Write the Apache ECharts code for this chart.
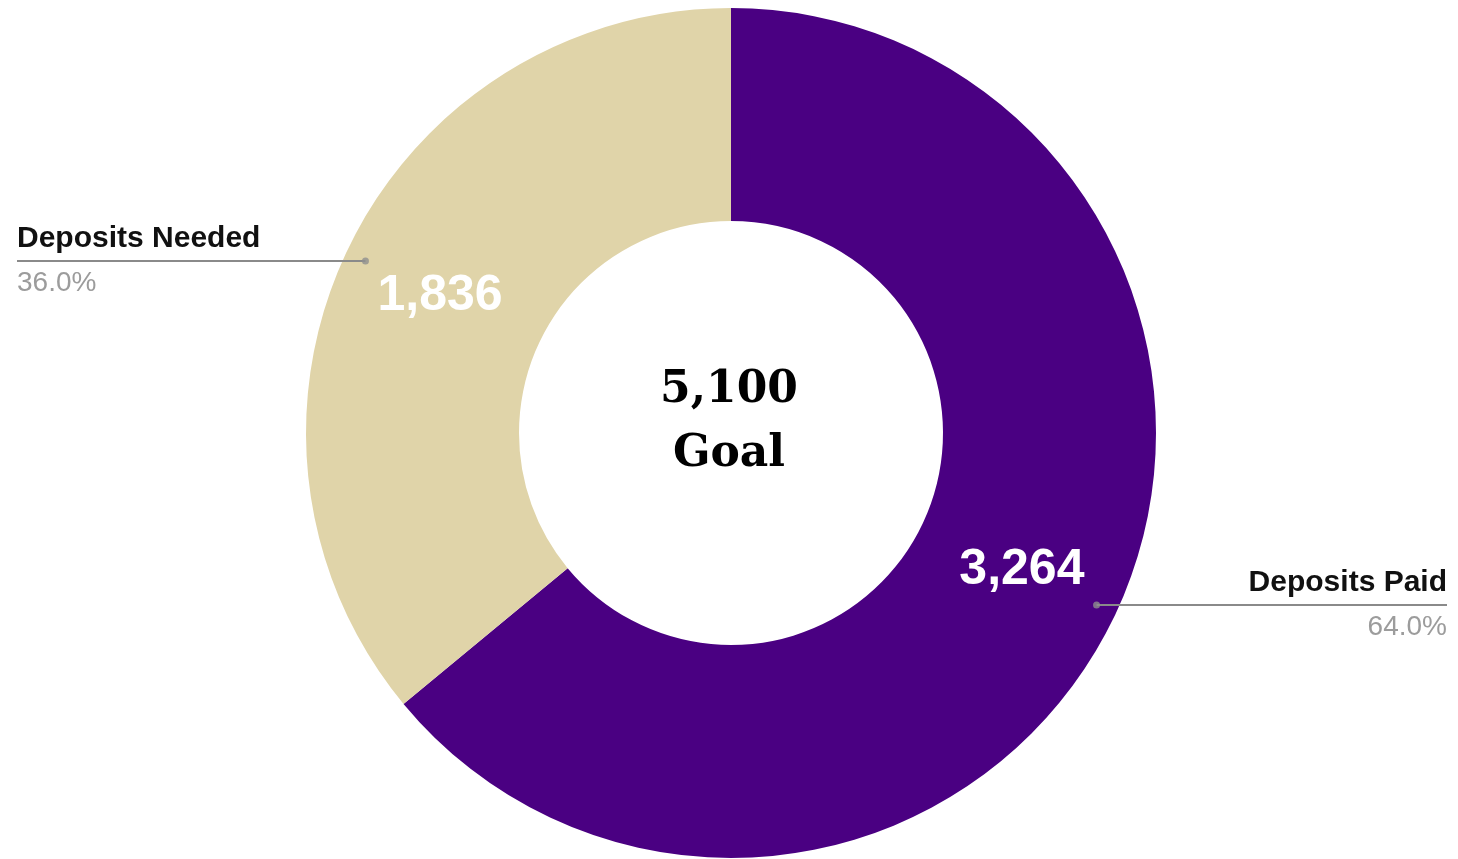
<!DOCTYPE html>
<html>
<head>
<meta charset="utf-8">
<script src="https://cdn.jsdelivr.net/npm/echarts@6/dist/echarts.min.js"></script>
<style>html,body{margin:0;padding:0;background:#fff}#c{width:1458px;height:859px}</style>
</head>
<body>
<div id="c"></div>
<script>
var categories = ['Deposits Paid', 'Deposits Needed'];
var values = [3264, 1836];
var colors = ['#4a0082', '#e0d4a9'];
var goalValue = '5,100';
var goalLabel = 'Goal';

var chart = echarts.init(document.getElementById('c'), null, {renderer: 'canvas'});
var total = values.reduce(function (a, b) { return a + b; }, 0);
var data = categories.map(function (n, i) {
  return { name: n, value: values[i], itemStyle: { color: colors[i] } };
});
var edgeDist = [11, 17];
var labelData = categories.map(function (n, i) {
  return { name: n, value: values[i], label: { edgeDistance: edgeDist[i] } };
});
var lineStartR = 404;
var acc = 0;
var dotData = values.map(function (v) {
  var mid = acc + v / 2; acc += v;
  return [lineStartR, mid];
});
function fmt(v) { return v.toLocaleString('en-US'); }

chart.setOption({
  animation: false,
  title: {
    text: '{a|' + goalValue + '}\n{a|' + goalLabel + '}',
    left: 'center',
    top: 354,
    textStyle: {
      rich: {
        a: { fontFamily: 'DejaVu Serif', fontWeight: 'bold', fontSize: 44, lineHeight: 64, color: '#000', align: 'center' }
      }
    }
  },
  polar: { center: [731, 433], radius: 425 },
  radiusAxis: { type: 'value', min: 0, max: 425, show: false, axisLine: {show:false}, splitLine: {show:false} },
  angleAxis: { type: 'value', min: 0, max: total, startAngle: 90, clockwise: true, show: false, axisLine: {show:false}, splitLine: {show:false} },
  series: [
    {
      type: 'pie',
      z: 2,
      center: [731, 433],
      radius: [212, 425],
      startAngle: 90,
      clockwise: true,
      silent: true,
      label: {
        show: true,
        position: 'inside',
        formatter: function (p) { return fmt(p.value); },
        color: '#fff',
        fontFamily: 'Liberation Sans',
        fontWeight: 'bold',
        fontSize: 50
      },
      labelLine: { show: false },
      data: data
    },
    {
      type: 'pie',
      z: 6,
      center: [731, 433],
      radius: [0, lineStartR],
      startAngle: 90,
      clockwise: true,
      silent: true,
      itemStyle: { color: 'rgba(0,0,0,0)' },
      label: {
        show: true,
        position: 'outside',
        alignTo: 'edge',
        edgeDistance: 14,
        formatter: function (p) {
          return '{n|' + p.name + '}\n{p|' + (p.value / total * 100).toFixed(1) + '%}';
        },
        rich: {
          n: { fontFamily: 'Liberation Sans', fontWeight: 'bold', fontSize: 30, color: '#111', lineHeight: 44 },
          p: { fontFamily: 'Liberation Sans', fontSize: 28, color: '#9c9c9c', lineHeight: 44 }
        }
      },
      labelLine: {
        show: true,
        length: 0,
        length2: 20,
        lineStyle: { color: '#8a8a8a', width: 2 }
      },
      labelLayout: function (p) {
        var pts = p.labelLinePoints;
        if (!pts) return {};
        var r = p.labelRect;
        var isLeft = pts[pts.length - 1][0] < pts[0][0];
        var endX = isLeft ? r.x : r.x + r.width;
        var last = pts[pts.length - 1];
        return { labelLinePoints: [pts[0], pts[1], [endX, last[1]]] };
      },
      data: labelData
    },
    {
      type: 'scatter',
      coordinateSystem: 'polar',
      z: 7,
      silent: true,
      symbol: 'circle',
      symbolSize: 7,
      itemStyle: { color: '#8e8e8e' },
      data: dotData
    }
  ]
});
</script>
</body>
</html>
